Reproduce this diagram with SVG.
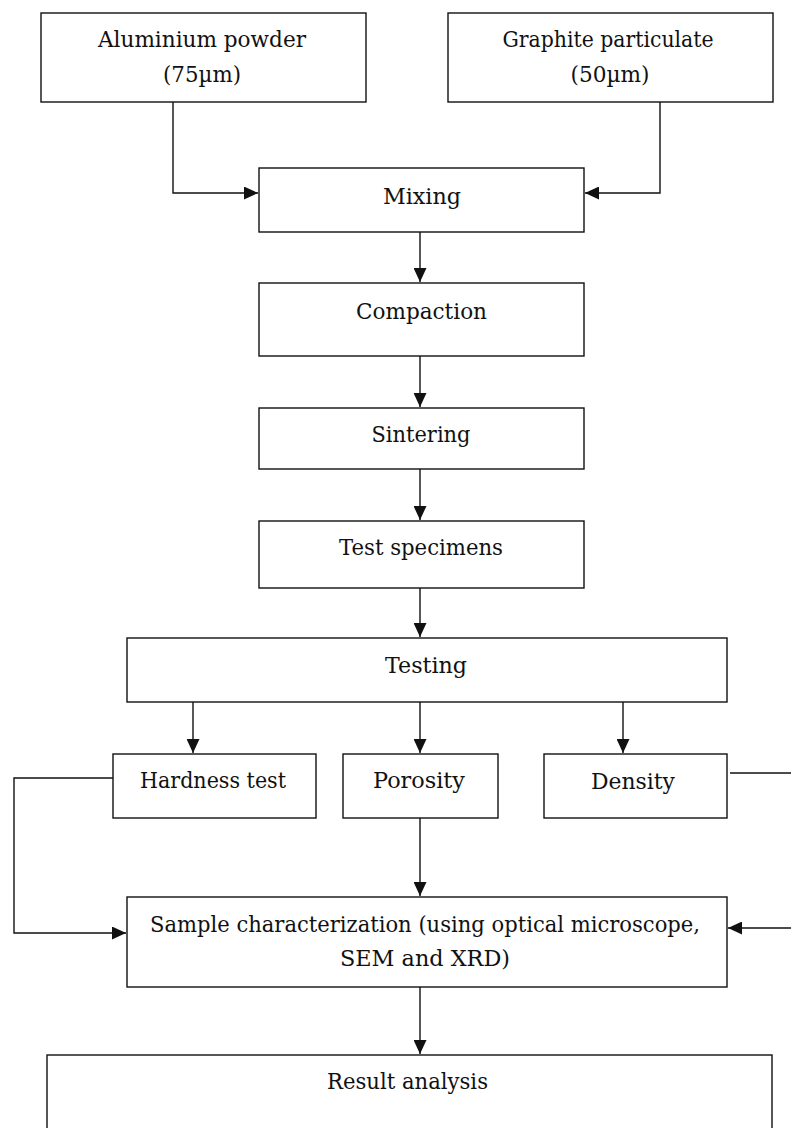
<svg xmlns="http://www.w3.org/2000/svg" width="791" height="1128" viewBox="0 0 791 1128">
  <style>
    .box { fill: #ffffff; stroke: #111111; stroke-width: 1.4; }
    .wire { fill: none; stroke: #111111; stroke-width: 1.4; }
    .lbl { font-family: "DejaVu Serif", "Liberation Serif", serif; font-size: 21.5px; fill: #111111; text-anchor: middle; }
  </style>
  <defs>
    <marker id="arrow" markerUnits="userSpaceOnUse" markerWidth="15" markerHeight="13" refX="14" refY="6.5" orient="auto">
      <path d="M0,0 L14,6.5 L0,13 Z" fill="#111111"/>
    </marker>
  </defs>
  <rect width="791" height="1128" fill="#ffffff"/>

  <!-- connectors -->
  <g id="connectors">
    <path class="wire" d="M173,102 V193 H258" marker-end="url(#arrow)"/>
    <path class="wire" d="M660,102 V193 H585" marker-end="url(#arrow)"/>
    <path class="wire" d="M420,232 V282" marker-end="url(#arrow)"/>
    <path class="wire" d="M420,356 V407" marker-end="url(#arrow)"/>
    <path class="wire" d="M420,469 V520" marker-end="url(#arrow)"/>
    <path class="wire" d="M420,588 V637" marker-end="url(#arrow)"/>
    <path class="wire" d="M193,702 V753" marker-end="url(#arrow)"/>
    <path class="wire" d="M420,702 V753" marker-end="url(#arrow)"/>
    <path class="wire" d="M623,702 V753" marker-end="url(#arrow)"/>
    <path class="wire" d="M113,778 H14 V933 H126" marker-end="url(#arrow)"/>
    <path class="wire" d="M730,773 H791"/>
    <path class="wire" d="M791,928 H728" marker-end="url(#arrow)"/>
    <path class="wire" d="M420,818 V896" marker-end="url(#arrow)"/>
    <path class="wire" d="M420,987 V1054" marker-end="url(#arrow)"/>
  </g>

  <!-- nodes -->
  <g id="aluminium">
    <rect class="box" x="41" y="13" width="325" height="89"/>
    <text class="lbl" x="202" y="47" textLength="208" lengthAdjust="spacingAndGlyphs">Aluminium powder</text>
    <text class="lbl" x="202" y="82" textLength="78" lengthAdjust="spacingAndGlyphs">(75µm)</text>
  </g>
  <g id="graphite">
    <rect class="box" x="448" y="13" width="325" height="89"/>
    <text class="lbl" x="608" y="47" textLength="211" lengthAdjust="spacingAndGlyphs">Graphite particulate</text>
    <text class="lbl" x="610" y="82" textLength="79" lengthAdjust="spacingAndGlyphs">(50µm)</text>
  </g>
  <g id="mixing">
    <rect class="box" x="259" y="168" width="325" height="64"/>
    <text class="lbl" x="422" y="204" textLength="78" lengthAdjust="spacingAndGlyphs">Mixing</text>
  </g>
  <g id="compaction">
    <rect class="box" x="259" y="283" width="325" height="73"/>
    <text class="lbl" x="421.5" y="319" textLength="131" lengthAdjust="spacingAndGlyphs">Compaction</text>
  </g>
  <g id="sintering">
    <rect class="box" x="259" y="408" width="325" height="61"/>
    <text class="lbl" x="421" y="442" textLength="99" lengthAdjust="spacingAndGlyphs">Sintering</text>
  </g>
  <g id="test-specimens">
    <rect class="box" x="259" y="521" width="325" height="67"/>
    <text class="lbl" x="421" y="555" textLength="164" lengthAdjust="spacingAndGlyphs">Test specimens</text>
  </g>
  <g id="testing">
    <rect class="box" x="127" y="638" width="600" height="64"/>
    <text class="lbl" x="426" y="673" textLength="82" lengthAdjust="spacingAndGlyphs">Testing</text>
  </g>
  <g id="hardness">
    <rect class="box" x="113" y="754" width="203" height="64"/>
    <text class="lbl" x="213" y="788" textLength="146" lengthAdjust="spacingAndGlyphs">Hardness test</text>
  </g>
  <g id="porosity">
    <rect class="box" x="343" y="754" width="155" height="64"/>
    <text class="lbl" x="419" y="788" textLength="92" lengthAdjust="spacingAndGlyphs">Porosity</text>
  </g>
  <g id="density">
    <rect class="box" x="544" y="754" width="183" height="64"/>
    <text class="lbl" x="633" y="789" textLength="84" lengthAdjust="spacingAndGlyphs">Density</text>
  </g>
  <g id="characterization">
    <rect class="box" x="127" y="897" width="600" height="90"/>
    <text class="lbl" x="425" y="932" textLength="550" lengthAdjust="spacingAndGlyphs">Sample characterization (using optical microscope,</text>
    <text class="lbl" x="425" y="966" textLength="170" lengthAdjust="spacingAndGlyphs">SEM and XRD)</text>
  </g>
  <g id="result">
    <rect class="box" x="47" y="1055" width="725" height="90"/>
    <text class="lbl" x="407.5" y="1089" textLength="161" lengthAdjust="spacingAndGlyphs">Result analysis</text>
  </g>
</svg>
